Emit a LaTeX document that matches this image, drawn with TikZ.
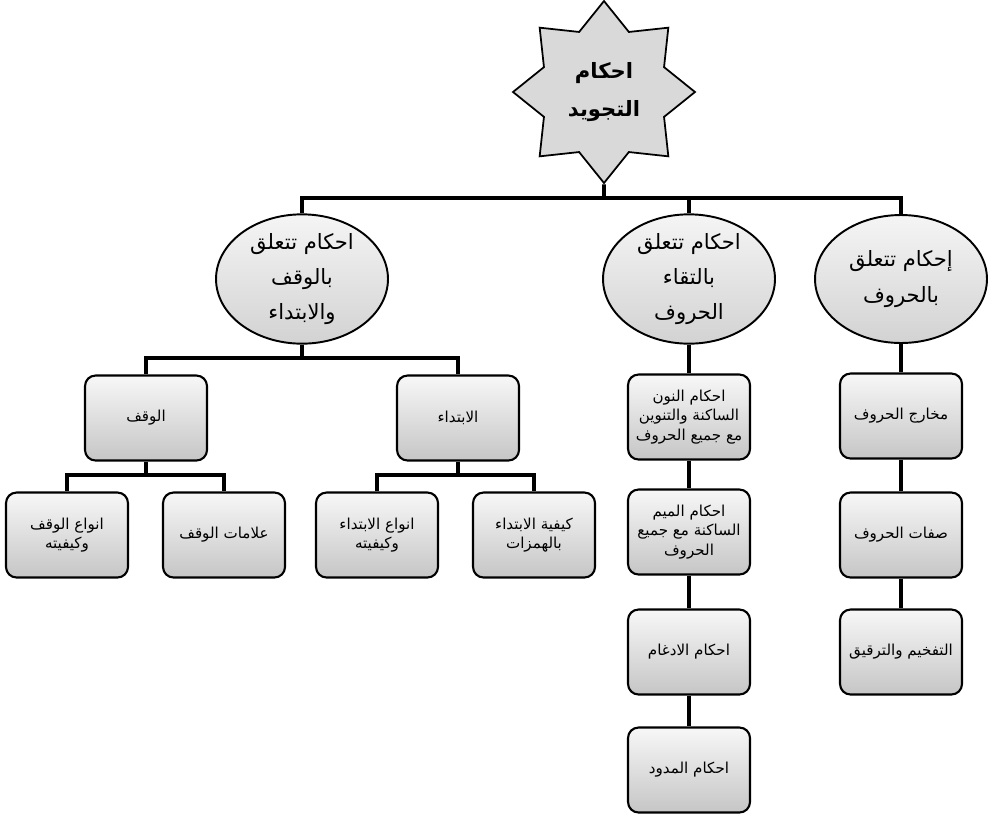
\documentclass[tikz,border=0pt]{standalone}
\usepackage{fontspec}
\usepackage{xcolor}
\usepackage{tikz}
\usetikzlibrary{shapes.geometric}
\TeXXeTstate=1
\newfontfamily\arabicfont[Script=Arabic]{DejaVu Sans}
\newcommand\ar[1]{\beginR #1\endR}

\begin{document}
\begin{tikzpicture}[x=0.02cm,y=-0.02cm,
  link/.style={line width=2.2pt},
  topic/.style={shape=star,star points=8,star point ratio=1.4,minimum size=3.64cm,inner sep=0pt,
    draw,line width=1pt,fill=gray!30,align=center,font=\arabicfont\bfseries\fontsize{12}{22}\selectfont},
  group/.style={ellipse,draw,line width=1.1pt,minimum width=3.44cm,minimum height=2.56cm,inner sep=0pt,
    top color=gray!8,bottom color=gray!35,align=center,font=\arabicfont\fontsize{12}{20}\selectfont},
  rule/.style={draw,line width=1.2pt,rounded corners=6pt,minimum width=2.44cm,minimum height=1.7cm,inner sep=1pt,
    top color=gray!6,bottom color=gray!45,align=center,font=\arabicfont\fontsize{8.6}{11}\selectfont}]
\useasboundingbox (0,0) rectangle (994,816);

% top of the tree
\node[topic] (tajweed) at (604,92) {\ar{احكام}\\\ar{التجويد}};
\node[group] (waqf) at (302,279) {\ar{احكام تتعلق}\\\ar{بالوقف}\\\ar{والابتداء}};
\node[group] (iltiqa) at (689,279) {\ar{احكام تتعلق}\\\ar{بالتقاء}\\\ar{الحروف}};
\node[group] (huruf) at (901,279) {\ar{إحكام تتعلق}\\\ar{بالحروف}};
\coordinate (bus) at (604,198);

% left branch
\node[rule] (wqf) at (146,418) {\ar{الوقف}};
\node[rule] (ibt) at (458,418) {\ar{الابتداء}};
\node[rule] (anwaq) at (67,535) {\ar{انواع الوقف}\\\ar{وكيفيته}};
\node[rule] (alamat) at (224,535) {\ar{علامات الوقف}};
\node[rule] (anwab) at (377,535) {\ar{انواع الابتداء}\\\ar{وكيفيته}};
\node[rule] (kayfiya) at (534,535) {\ar{كيفية الابتداء}\\\ar{بالهمزات}};
\coordinate (lbus) at (302,358);
\coordinate (wbus) at (146,475);
\coordinate (bbus) at (458,475);

% middle column
\node[rule] (nun) at (689,417) {\ar{احكام النون}\\\ar{الساكنة والتنوين}\\\ar{مع جميع الحروف}};
\node[rule] (mim) at (689,532) {\ar{احكام الميم}\\\ar{الساكنة مع جميع}\\\ar{الحروف}};
\node[rule] (idgham) at (689,652) {\ar{احكام الادغام}};
\node[rule] (mudud) at (689,770) {\ar{احكام المدود}};

% right column
\node[rule] (makharij) at (901,416) {\ar{مخارج الحروف}};
\node[rule] (sifat) at (901,535) {\ar{صفات الحروف}};
\node[rule] (tafkhim) at (901,652) {\ar{التفخيم والترقيق}};

\draw[link] (tajweed.south) -- (bus);
\draw[link] (waqf.north) |- (bus) -| (huruf.north);
\draw[link] (bus) -| (iltiqa.north);
\draw[link] (waqf.south) -- (lbus);
\draw[link] (wqf.north) |- (lbus) -| (ibt.north);
\draw[link] (wqf.south) -- (wbus);
\draw[link] (anwaq.north) |- (wbus) -| (alamat.north);
\draw[link] (ibt.south) -- (bbus);
\draw[link] (anwab.north) |- (bbus) -| (kayfiya.north);
\draw[link] (iltiqa.south) -- (nun.north);
\draw[link] (nun) -- (mim);
\draw[link] (mim) -- (idgham);
\draw[link] (idgham) -- (mudud);
\draw[link] (huruf.south) -- (makharij.north);
\draw[link] (makharij) -- (sifat);
\draw[link] (sifat) -- (tafkhim);
\end{tikzpicture}
\end{document}
